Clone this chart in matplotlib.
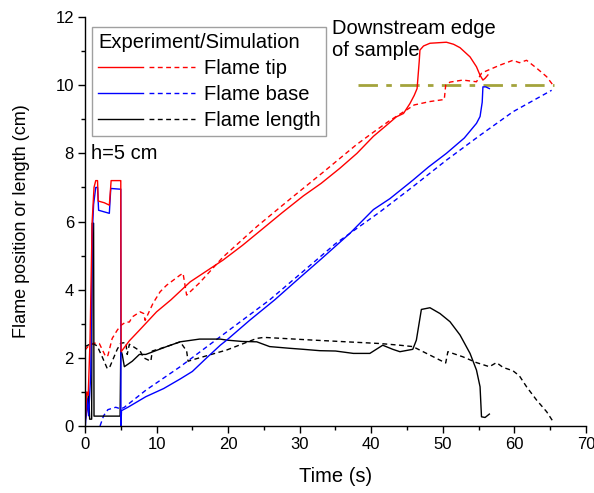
import matplotlib
matplotlib.use('Agg')
import matplotlib.pyplot as plt
from matplotlib.lines import Line2D
from matplotlib.legend_handler import HandlerTuple
from matplotlib.ticker import MultipleLocator

plt.rcParams['font.family'] = ['Liberation Sans', 'DejaVu Sans']

# --- dane (czas w s, pozycja w cm) ---
tip_exp_t = [0.05, 0.25, 0.45, 0.7, 1.0, 1.26, 1.5, 1.75, 1.85, 2.7, 3.4, 3.55, 3.65, 4.9, 5.0,
             5.05, 6.2, 7.6, 10.0, 12.0, 14.7, 17.0, 19.3, 22.0, 24.9, 27.5, 30.5, 33.0, 35.6,
             38.0, 40.3, 42.0, 43.5, 44.5, 45.4, 46.0, 46.4, 46.7, 46.8, 47.3, 48.2, 50.5,
             51.5, 52.4, 53.8, 54.7, 55.2, 55.6, 55.9, 56.3]
tip_exp = [0.2, 1.0, 0.9, 2.5, 6.0, 7.0, 7.2, 7.2, 6.6, 6.55, 6.48, 6.9, 7.2, 7.2, 7.2,
           2.18, 2.5, 2.81, 3.35, 3.7, 4.23, 4.55, 4.87, 5.3, 5.8, 6.25, 6.75, 7.12, 7.56,
           8.0, 8.5, 8.8, 9.07, 9.17, 9.46, 9.7, 9.9, 10.7, 11.03, 11.15, 11.23, 11.26,
           11.2, 11.1, 10.83, 10.54, 10.29, 10.15, 10.2, 10.3]

tip_sim_t = [0.0, 0.5, 1.3, 2.0, 2.9, 3.2, 3.8, 4.5, 5.0, 5.7, 6.2, 6.6, 7.7, 8.2, 8.4, 9.5,
             10.5, 11.4, 13.3, 13.7, 14.2, 14.7, 16.0, 19.3, 24.0, 28.6, 33.3, 37.9, 40.3,
             42.5, 44.9, 46.0, 48.2, 50.2, 50.4, 51.0, 52.8, 54.7, 55.4, 56.1, 58.0, 59.8,
             60.7, 61.7, 63.1, 64.5, 65.4]
tip_sim = [2.23, 2.35, 2.43, 2.42, 2.03, 2.07, 2.57, 2.81, 2.95, 3.05, 3.05, 3.2, 3.35, 3.3,
           3.1, 3.6, 3.94, 4.13, 4.43, 4.48, 3.84, 3.94, 4.2, 4.96, 5.85, 6.65, 7.45, 8.25,
           8.62, 8.95, 9.27, 9.42, 9.52, 9.58, 10.0, 10.09, 10.15, 10.1, 10.35, 10.42, 10.59,
           10.73, 10.66, 10.73, 10.5, 10.25, 10.0]

base_exp_t = [0.05, 0.3, 0.5, 0.8, 1.0, 1.2, 1.5, 1.75, 1.9, 3.4, 3.6, 4.8, 5.0, 5.02, 5.1,
              6.0, 8.5, 11.0, 13.3, 15.0, 17.0, 18.9, 19.8, 23.0, 26.5, 30.0, 33.0, 37.0,
              40.3, 42.6, 45.8, 48.0, 50.5, 53.0, 54.7, 55.2, 55.5, 55.6, 56.0, 56.5]
base_exp = [0.0, 0.8, 0.3, 1.5, 5.55, 6.5, 7.0, 7.0, 6.33, 6.24, 6.97, 6.95, 6.95, 0.0, 0.45,
            0.55, 0.86, 1.1, 1.38, 1.6, 2.0, 2.37, 2.52, 3.1, 3.7, 4.35, 4.9, 5.65,
            6.35, 6.67, 7.21, 7.6, 8.0, 8.45, 8.88, 9.08, 9.5, 9.95, 9.95, 9.9]

base_sim_t = [2.1, 2.6, 3.2, 4.3, 5.0, 5.5, 8.5, 13.3, 18.9, 25.8, 30.0, 35.0, 41.2, 45.8,
              50.5, 55.2, 59.8, 65.2]
base_sim = [0.0, 0.3, 0.48, 0.55, 0.5, 0.55, 1.05, 1.74, 2.62, 3.7, 4.45, 5.35, 6.28, 7.02,
            7.8, 8.53, 9.22, 9.85]

len_exp_t = [0.05, 0.3, 0.5, 0.65, 0.93, 1.0, 1.2, 1.26, 4.9, 5.0, 5.2, 5.5, 6.6, 7.6, 8.5,
             11.4, 13.3, 16.0, 18.9, 19.8, 22.0, 24.0, 25.8, 28.6, 30.5, 32.8, 35.0, 37.5,
             39.8, 41.6, 43.0, 44.0, 45.8, 46.3, 47.0, 48.2, 49.6, 51.0, 52.4, 53.8, 54.7,
             55.2, 55.4, 55.9, 56.5]
len_exp = [0.2, 0.5, 1.0, 0.2, 0.2, 5.95, 5.95, 0.29, 0.29, 2.23, 2.1, 1.74, 1.9, 2.1, 2.1,
           2.33, 2.47, 2.55, 2.55, 2.52, 2.48, 2.47, 2.33, 2.28, 2.25, 2.21, 2.2, 2.13,
           2.13, 2.37, 2.25, 2.18, 2.25, 2.52, 3.42, 3.47, 3.3, 3.06, 2.67, 2.13, 1.64,
           1.15, 0.27, 0.25, 0.35]

len_sim_t = [0.0, 1.0, 1.7, 2.4, 3.1, 3.4, 3.8, 4.5, 5.0, 5.7, 5.9, 6.2, 7.7, 8.2, 9.2, 9.4,
             11.4, 13.3, 14.2, 14.4, 15.0, 19.8, 24.0, 25.0, 31.9, 41.2, 44.0, 45.8, 48.2,
             50.0, 50.4, 50.7, 52.8, 54.7, 56.5, 57.5, 58.4, 59.8, 60.7, 61.7, 63.1, 64.5,
             65.4]
len_sim = [2.33, 2.43, 2.35, 2.03, 1.69, 1.7, 1.9, 2.25, 2.43, 2.45, 2.1, 2.4, 2.2, 2.0, 1.9,
           2.2, 2.33, 2.47, 2.2, 1.9, 1.94, 2.23, 2.57, 2.6, 2.52, 2.42, 2.37, 2.33, 2.08,
           1.89, 1.85, 2.18, 2.03, 1.86, 1.74, 1.86, 1.72, 1.62, 1.47, 1.15, 0.76, 0.42,
           0.13]

edge_t = [38.2, 65.5]   # krawędź próbki (linia kreska-kropka)
edge_y = [10.0, 10.0]

labels = ['Flame tip', 'Flame base', 'Flame length']
colors = ['red', 'blue', 'black']

# --- rysowanie ---
fig = plt.figure(figsize=(5.94, 4.93), dpi=100)
ax = fig.add_axes([0.1431, 0.1359, 0.8434, 0.8296])

dash = (0, (3.5, 2.5))
lw = 1.0
ax.plot(edge_t, edge_y, color='#a3a33c', linewidth=2.0, linestyle=(0, (7, 3, 2, 3)))
ax.plot(len_sim_t, len_sim, color='black', linewidth=lw, linestyle=dash)
ax.plot(base_sim_t, base_sim, color='blue', linewidth=lw, linestyle=dash)
ax.plot(tip_sim_t, tip_sim, color='red', linewidth=lw, linestyle=dash)
ax.plot(len_exp_t, len_exp, color='black', linewidth=lw)
ax.plot(base_exp_t, base_exp, color='blue', linewidth=lw)
ax.plot(tip_exp_t, tip_exp, color='red', linewidth=lw)

ax.set_xlim(0, 70)
ax.set_ylim(0, 12)
ax.xaxis.set_major_locator(MultipleLocator(10))
ax.xaxis.set_minor_locator(MultipleLocator(5))
ax.yaxis.set_major_locator(MultipleLocator(2))
ax.yaxis.set_minor_locator(MultipleLocator(1))
ax.spines['top'].set_visible(False)
ax.spines['right'].set_visible(False)
for s in ['left', 'bottom']:
    ax.spines[s].set_linewidth(1.0)
ax.tick_params(which='major', direction='out', length=5, width=1.0, labelsize=12, pad=3)
ax.tick_params(which='minor', direction='out', length=3, width=1.0)

ax.set_xlabel('Time (s)', fontsize=14.5)
ax.set_ylabel('Flame position or length (cm)', fontsize=13)
ax.xaxis.set_label_coords(0.5, -0.1)
ax.yaxis.set_label_coords(-0.11, 0.5)

ax.text(34.5, 11.95, 'Downstream edge\nof sample', fontsize=14.5, ha='left', va='top',
        linespacing=1.25)
ax.text(0.9, 8.0, 'h=5 cm', fontsize=14.5, ha='left', va='center')

# legenda: linia ciągła (eksperyment) + przerywana (symulacja)
handles = [(Line2D([], [], color=c, lw=lw), Line2D([], [], color=c, lw=lw, ls=dash))
           for c in colors]
leg = ax.legend(handles, labels, handler_map={tuple: HandlerTuple(ndivide=None, pad=0.3)},
                title='Experiment/Simulation', alignment='left', loc='upper left',
                bbox_to_anchor=(0.014, 0.976), borderaxespad=0, fancybox=False,
                edgecolor='#a0a0a0', framealpha=1, handlelength=4.8, handletextpad=0.45,
                labelspacing=0.35, borderpad=0.3, fontsize=14.5, title_fontsize=14.5)
leg.get_frame().set_linewidth(1.0)

plt.savefig('out.png', dpi=100)
